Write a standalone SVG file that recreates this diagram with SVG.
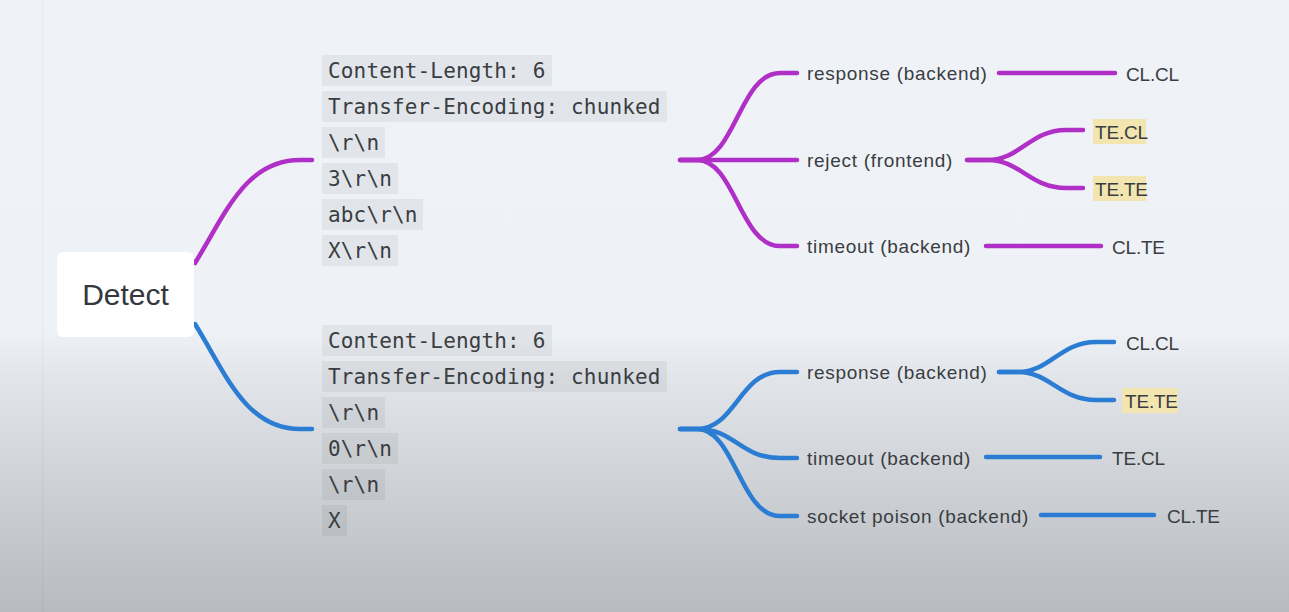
<svg xmlns="http://www.w3.org/2000/svg" width="1289" height="612" viewBox="0 0 1289 612">
<defs>
<linearGradient id="bg" x1="0" y1="0" x2="0" y2="1">
<stop offset="0" stop-color="#eff3f7"/>
<stop offset="0.54" stop-color="#eef2f6"/>
<stop offset="0.62" stop-color="#e1e5e9"/>
<stop offset="0.8" stop-color="#cdd1d5"/>
<stop offset="1" stop-color="#b7bbbf"/>
</linearGradient>
<style>
.code{font-family:"DejaVu Sans Mono","Liberation Mono",monospace;font-size:21px;letter-spacing:0.15px;fill:#3a3d42}
.cbox{fill:#000;fill-opacity:0.05}
.lbl{font-family:"Liberation Sans",Arial,sans-serif;font-size:19px;letter-spacing:0.7px;fill:#3a3d42}
.res{font-family:"Liberation Sans",Arial,sans-serif;font-size:19px;letter-spacing:-0.2px;fill:#3a3d42}
.hl{fill:#f3e5b0}
.p{fill:none;stroke:#b02fc6;stroke-width:4.5;stroke-linecap:round}
.b{fill:none;stroke:#2b7cd3;stroke-width:4.5;stroke-linecap:round}
</style>
</defs>
<rect x="0" y="0" width="1289" height="612" fill="url(#bg)"/>
<rect x="42" y="0" width="1.5" height="612" fill="#000" fill-opacity="0.025"/>

<g id="connectors">
<path class="p" d="M195,263 C225,215 245,160 300,160 L312,160"/>
<path class="b" d="M195,324 C225,372 245,429 300,429 L312,429"/>
<!-- upper purple tree -->
<path class="p" d="M680,160 L697,160 C735,160 740,73 780,73 L797,73"/>
<path class="p" d="M680,160 L797,160"/>
<path class="p" d="M680,160 L697,160 C735,160 740,246 780,246 L797,246"/>
<path class="p" d="M999,73 L1115,73"/>
<path class="p" d="M967,160 L988,160 C1020,160 1030,130 1066,130 L1083,130"/>
<path class="p" d="M967,160 L988,160 C1020,160 1030,188 1066,188 L1083,188"/>
<path class="p" d="M986,246 L1101,246"/>
<!-- lower blue tree -->
<path class="b" d="M680,429 L697,429 C735,429 740,372 780,372 L797,372"/>
<path class="b" d="M680,429 L697,429 C735,429 740,458 780,458 L797,458"/>
<path class="b" d="M680,429 L697,429 C735,429 740,516 780,516 L797,516"/>
<path class="b" d="M999,372 L1018,372 C1050,372 1060,342 1096,342 L1114,342"/>
<path class="b" d="M999,372 L1018,372 C1050,372 1060,400 1096,400 L1114,400"/>
<path class="b" d="M986,457 L1100,457"/>
<path class="b" d="M1041,515 L1154,515"/>
</g>

<g id="detect">
<rect x="57" y="252" width="137" height="85" rx="6" fill="#ffffff"/>
<text x="125.5" y="305" text-anchor="middle" font-family="'Liberation Sans',Arial,sans-serif" font-size="30" fill="#35383d">Detect</text>
</g>

<g id="code-upper">
<rect class="cbox" x="322" y="55" width="230" height="31"/>
<rect class="cbox" x="322" y="91" width="345" height="31"/>
<rect class="cbox" x="322" y="127" width="63" height="31"/>
<rect class="cbox" x="322" y="163" width="76" height="31"/>
<rect class="cbox" x="322" y="199" width="101" height="31"/>
<rect class="cbox" x="322" y="235" width="76" height="31"/>
<text class="code" x="328" y="78">Content-Length: 6</text>
<text class="code" x="328" y="114">Transfer-Encoding: chunked</text>
<text class="code" x="328" y="150">\r\n</text>
<text class="code" x="328" y="186">3\r\n</text>
<text class="code" x="328" y="222">abc\r\n</text>
<text class="code" x="328" y="258">X\r\n</text>
</g>

<g id="code-lower">
<rect class="cbox" x="322" y="325" width="230" height="31"/>
<rect class="cbox" x="322" y="361" width="345" height="31"/>
<rect class="cbox" x="322" y="397" width="63" height="31"/>
<rect class="cbox" x="322" y="433" width="76" height="31"/>
<rect class="cbox" x="322" y="469" width="63" height="31"/>
<rect class="cbox" x="322" y="505" width="25" height="31"/>
<text class="code" x="328" y="348">Content-Length: 6</text>
<text class="code" x="328" y="384">Transfer-Encoding: chunked</text>
<text class="code" x="328" y="420">\r\n</text>
<text class="code" x="328" y="456">0\r\n</text>
<text class="code" x="328" y="492">\r\n</text>
<text class="code" x="328" y="528">X</text>
</g>

<g id="u-response"><text class="lbl" x="807" y="80">response (backend)</text></g>
<g id="u-reject"><text class="lbl" x="807" y="167">reject (frontend)</text></g>
<g id="u-timeout"><text class="lbl" x="807" y="253">timeout (backend)</text></g>
<g id="u-clcl"><text class="res" x="1126" y="81">CL.CL</text></g>
<g id="u-tecl"><rect class="hl" x="1093" y="119" width="53" height="25"/><text class="res" x="1095" y="139">TE.CL</text></g>
<g id="u-tete"><rect class="hl" x="1093" y="176" width="53" height="25"/><text class="res" x="1095" y="196">TE.TE</text></g>
<g id="u-clte"><text class="res" x="1112" y="254">CL.TE</text></g>

<g id="l-response"><text class="lbl" x="807" y="379">response (backend)</text></g>
<g id="l-timeout"><text class="lbl" x="807" y="465">timeout (backend)</text></g>
<g id="l-socket"><text class="lbl" x="807" y="523">socket poison (backend)</text></g>
<g id="l-clcl"><text class="res" x="1126" y="350">CL.CL</text></g>
<g id="l-tete"><rect class="hl" x="1122" y="388" width="56" height="25"/><text class="res" x="1125" y="408">TE.TE</text></g>
<g id="l-tecl"><text class="res" x="1112" y="465">TE.CL</text></g>
<g id="l-clte"><text class="res" x="1167" y="523">CL.TE</text></g>
</svg>
